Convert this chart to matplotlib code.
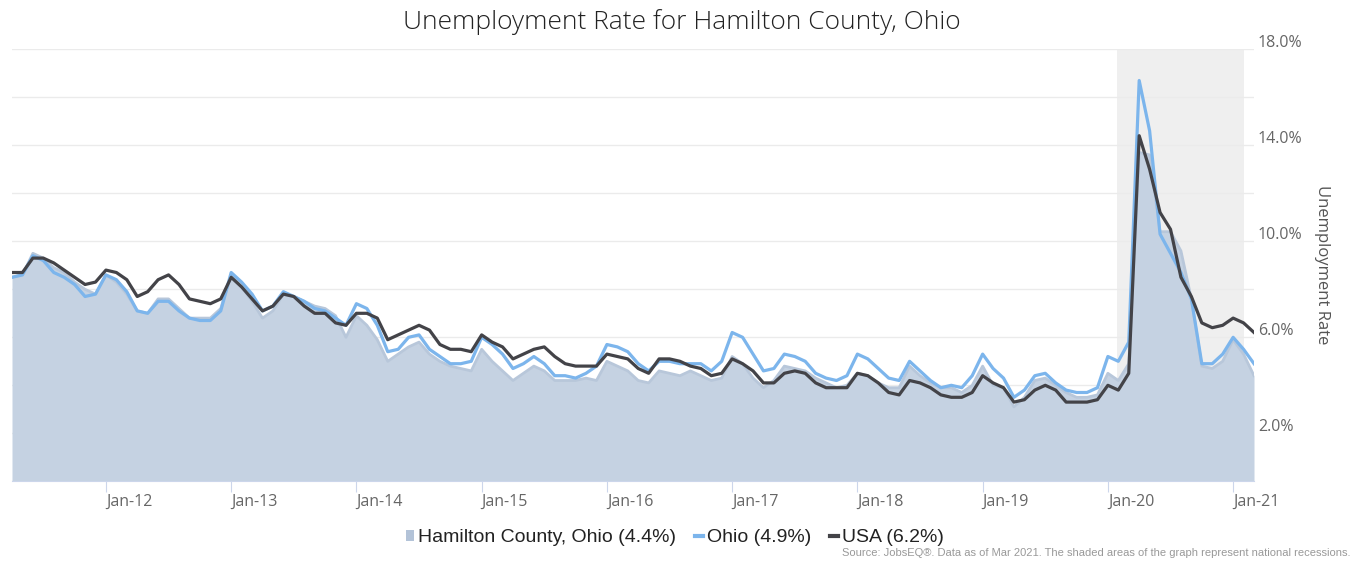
import matplotlib
matplotlib.use("Agg")
import matplotlib.pyplot as plt
from matplotlib.patches import Patch
from matplotlib.lines import Line2D
import matplotlib.transforms as mtransforms
import numpy as np

# monthly values, Apr 2011 .. Mar 2021
months = [f"{m}-{y:02d}" for y in range(11, 22)
          for m in ["Jan", "Feb", "Mar", "Apr", "May", "Jun", "Jul", "Aug", "Sep", "Oct", "Nov", "Dec"]][3:123]

hamilton = [8.5, 8.6, 9.5, 9.3, 8.9, 8.7, 8.3, 8.0, 7.8,
            8.6, 8.3, 7.8, 7.1, 7.0, 7.6, 7.6, 7.2, 6.8, 6.8, 6.8, 7.2,
            8.6, 8.1, 7.5, 6.8, 7.1, 7.8, 7.7, 7.5, 7.3, 7.2, 6.9, 6.0,
            6.9, 6.5, 5.9, 5.0, 5.3, 5.6, 5.8, 5.3, 5.0, 4.8, 4.7, 4.6,
            5.5, 5.0, 4.6, 4.2, 4.5, 4.8, 4.6, 4.2, 4.2, 4.2, 4.3, 4.2,
            5.0, 4.8, 4.6, 4.2, 4.1, 4.6, 4.5, 4.4, 4.6, 4.4, 4.2, 4.3,
            5.2, 4.9, 4.3, 3.9, 4.2, 4.8, 4.7, 4.6, 4.3, 4.1, 3.9, 4.0,
            4.5, 4.4, 4.1, 3.9, 3.9, 4.8, 4.4, 4.1, 3.9, 3.9, 3.7, 4.0,
            4.8, 4.0, 3.9, 3.1, 3.5, 4.2, 4.3, 4.0, 3.7, 3.5, 3.5, 3.6,
            4.5, 4.2, 4.9, 13.7, 13.6, 10.4, 10.4, 9.6, 7.6, 4.8, 4.7, 5.0,
            5.9, 5.3, 4.4]

ohio = [8.5, 8.6, 9.4, 9.2, 8.7, 8.5, 8.2, 7.7, 7.8,
        8.6, 8.4, 7.9, 7.1, 7.0, 7.5, 7.5, 7.1, 6.8, 6.7, 6.7, 7.1,
        8.7, 8.3, 7.8, 7.1, 7.3, 7.9, 7.7, 7.5, 7.2, 7.1, 6.8, 6.5,
        7.4, 7.2, 6.5, 5.4, 5.5, 6.0, 6.1, 5.5, 5.2, 4.9, 4.9, 5.0,
        6.0, 5.7, 5.3, 4.7, 4.9, 5.2, 4.9, 4.4, 4.4, 4.3, 4.5, 4.8,
        5.7, 5.6, 5.4, 4.9, 4.6, 5.0, 5.0, 4.9, 4.9, 4.9, 4.6, 5.0,
        6.2, 6.0, 5.3, 4.6, 4.7, 5.3, 5.2, 5.0, 4.5, 4.3, 4.2, 4.4,
        5.3, 5.1, 4.7, 4.3, 4.2, 5.0, 4.6, 4.2, 3.9, 4.0, 3.9, 4.4,
        5.3, 4.7, 4.3, 3.5, 3.8, 4.4, 4.5, 4.1, 3.8, 3.7, 3.7, 3.9,
        5.2, 5.0, 5.8, 16.7, 14.6, 10.3, 9.5, 8.7, 7.6, 4.9, 4.9, 5.3,
        6.0, 5.5, 4.9]

usa = [8.7, 8.7, 9.3, 9.3, 9.1, 8.8, 8.5, 8.2, 8.3,
       8.8, 8.7, 8.4, 7.7, 7.9, 8.4, 8.6, 8.2, 7.6, 7.5, 7.4, 7.6,
       8.5, 8.1, 7.6, 7.1, 7.3, 7.8, 7.7, 7.3, 7.0, 7.0, 6.6, 6.5,
       7.0, 7.0, 6.8, 5.9, 6.1, 6.3, 6.5, 6.3, 5.7, 5.5, 5.5, 5.4,
       6.1, 5.8, 5.6, 5.1, 5.3, 5.5, 5.6, 5.2, 4.9, 4.8, 4.8, 4.8,
       5.3, 5.2, 5.1, 4.7, 4.5, 5.1, 5.1, 5.0, 4.8, 4.7, 4.4, 4.5,
       5.1, 4.9, 4.6, 4.1, 4.1, 4.5, 4.6, 4.5, 4.1, 3.9, 3.9, 3.9,
       4.5, 4.4, 4.1, 3.7, 3.6, 4.2, 4.1, 3.9, 3.6, 3.5, 3.5, 3.7,
       4.4, 4.1, 3.9, 3.3, 3.4, 3.8, 4.0, 3.8, 3.3, 3.3, 3.3, 3.4,
       4.0, 3.8, 4.5, 14.4, 13.0, 11.2, 10.5, 8.5, 7.7, 6.6, 6.4, 6.5,
       6.8, 6.6, 6.2]

recession = ("Feb-20", "Feb-21")
y_labels = [2, 6, 10, 14, 18]

x = np.arange(len(months))

fig = plt.figure(figsize=(13.63, 5.61), dpi=100)
ax = fig.add_axes([12 / 1363, 1 - 481.3 / 561, (1254 - 12) / 1363, (481.3 - 49.3) / 561])

ax.axvspan(months.index(recession[0]) - 0.1, months.index(recession[1]), color="#efefef", lw=0, zorder=0)

ax.fill_between(x, hamilton, 0, color="#c5d2e2", lw=0, zorder=2)
ax.plot(x, hamilton, color="#b8c7da", lw=2, zorder=2)
ax.plot(x, ohio, color="#7cb5ec", lw=2.3, zorder=3)
ax.plot(x, usa, color="#434348", lw=2.3, zorder=4)

ax.set_xlim(0, len(months) - 1)
ax.set_ylim(0, 18)
ax.set_yticks(range(0, 19, 2))
ax.yaxis.set_tick_params(length=0, labelleft=False, labelright=False)
ax.grid(axis="y", color="#ebebeb", lw=1, zorder=1)
ax.set_axisbelow(True)

jan_idx = [i for i, m in enumerate(months) if m.startswith("Jan")]
ax.set_xticks(jan_idx)
ax.set_xticklabels([months[i] for i in jan_idx], fontsize=11.5, color="#666666", family="Open Sans")
ax.tick_params(axis="x", length=8, color="#ccd6eb", pad=1)
for lbl in ax.get_xticklabels():
    lbl.set_horizontalalignment("left")

for s in ["left", "right", "top"]:
    ax.spines[s].set_visible(False)
ax.spines["bottom"].set_color("#ccd6eb")

off = mtransforms.ScaledTranslation(4 / 100, 6 / 100, fig.dpi_scale_trans)
for v in y_labels:
    ax.text(1.0, v, f"{v:.1f}%", transform=ax.get_yaxis_transform() + off,
            ha="left", va="center", fontsize=11.5, color="#666666", family="Open Sans")

fig.text(1322 / 1363, 1 - 265 / 561, "Unemployment Rate", rotation=-90, ha="center", va="center",
         fontsize=12, color="#555555", family="Open Sans")

fig.text(0.5, 1 - 22 / 561, "Unemployment Rate for Hamilton County, Ohio", ha="center", va="center",
         fontsize=19, color="#222222", family="Open Sans", fontweight="light")

handles = [Patch(facecolor="#b3c3d8", edgecolor="none"),
           Line2D([], [], color="#7cb5ec", lw=3),
           Line2D([], [], color="#434348", lw=3)]
names = ["Hamilton County, Ohio (4.4%)", "Ohio (4.9%)", "USA (6.2%)"]
fig.legend(handles, names, loc="center", bbox_to_anchor=(675 / 1363, 1 - 538 / 561), ncol=3,
           frameon=False, handlelength=0.4, handleheight=0.5, handletextpad=0.2, columnspacing=1.0,
           labelcolor="#222222",
           prop={"family": ["Liberation Sans Narrow", "Liberation Sans"], "size": 14})

fig.text(1350 / 1363, 1 - 553 / 561,
         "Source: JobsEQ\u00ae. Data as of Mar 2021. The shaded areas of the graph represent national recessions.",
         ha="right", va="center", fontsize=8, color="#999999",
         family=["Liberation Sans Narrow", "Liberation Sans"])

fig.savefig("out.png", dpi=100)
